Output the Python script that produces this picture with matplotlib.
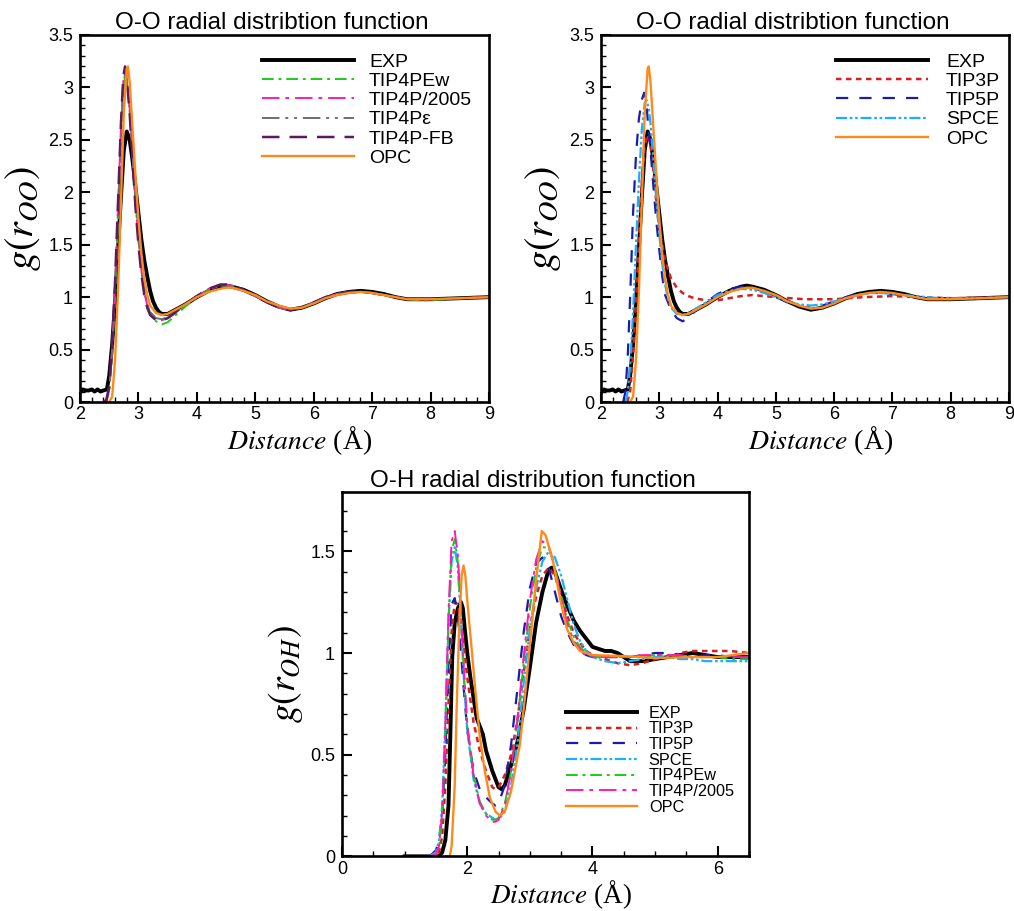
import numpy as np
import matplotlib
matplotlib.use('Agg')
import matplotlib.pyplot as plt
from matplotlib.ticker import MultipleLocator, FormatStrFormatter

plt.rcParams['font.family'] = ['Liberation Sans', 'DejaVu Sans']
plt.rcParams['mathtext.fontset'] = 'stix'

# ---------------- O-O data (top panels) ----------------
exp_oo_x = [2.0, 2.05, 2.1, 2.15, 2.2, 2.25, 2.3, 2.35, 2.4, 2.46, 2.5, 2.55, 2.6, 2.63, 2.7, 2.75, 2.8,
            2.85, 2.9, 2.95, 3.0, 3.05, 3.1, 3.15, 3.2, 3.25, 3.3, 3.35, 3.4, 3.5, 3.6, 3.8, 4.0, 4.2, 4.4,
            4.5, 4.6, 4.8, 5.0, 5.2, 5.4, 5.6, 5.8, 6.0, 6.2, 6.4, 6.6, 6.8, 7.0, 7.2, 7.4, 7.6, 7.8, 8.0, 8.5, 9.0]
exp_oo_y = [0.09, 0.12, 0.11, 0.11, 0.12, 0.10, 0.12, 0.10, 0.11, 0.12, 0.25, 0.55, 0.95, 1.26, 1.95, 2.4, 2.58,
            2.5, 2.3, 2.05, 1.8, 1.55, 1.35, 1.2, 1.06, 0.96, 0.9, 0.86, 0.84, 0.84, 0.87, 0.93, 1.0, 1.06, 1.1,
            1.11, 1.1, 1.07, 1.02, 0.96, 0.91, 0.88, 0.9, 0.94, 0.99, 1.03, 1.05, 1.06, 1.05, 1.03, 1.0, 0.98, 0.98, 0.98, 0.99, 1.0]

mod_oo_x = [2.4, 2.45, 2.5, 2.55, 2.6, 2.65, 2.7, 2.74, 2.77, 2.8, 2.85, 2.9, 2.95, 3.0, 3.05, 3.1, 3.15, 3.2,
            3.3, 3.4, 3.5, 3.6, 3.8, 4.0, 4.2, 4.4, 4.5, 4.6, 4.8, 5.0, 5.2, 5.4, 5.6, 5.8, 6.0, 6.2, 6.4, 6.6,
            6.8, 7.0, 7.2, 7.4, 7.6, 7.8, 8.0, 8.5, 9.0]
tip4pew_oo = [0.0, 0.0, 0.1, 0.45, 1.0, 1.75, 2.5, 2.95, 3.1, 3.06, 2.8, 2.4, 1.95, 1.6, 1.3, 1.08, 0.94, 0.85,
              0.77, 0.74, 0.76, 0.81, 0.91, 1.0, 1.07, 1.11, 1.11, 1.1, 1.06, 1.01, 0.95, 0.9, 0.88, 0.9, 0.94,
              0.99, 1.03, 1.05, 1.05, 1.04, 1.02, 1.0, 0.98, 0.97, 0.97, 0.99, 1.0]
tip4p2005_oo = [0.0, 0.01, 0.12, 0.5, 1.1, 1.85, 2.6, 3.05, 3.17, 3.1, 2.8, 2.35, 1.9, 1.55, 1.26, 1.05, 0.92, 0.84,
                0.78, 0.78, 0.8, 0.84, 0.93, 1.01, 1.08, 1.12, 1.12, 1.11, 1.07, 1.01, 0.95, 0.9, 0.88, 0.9, 0.95,
                1.0, 1.03, 1.05, 1.05, 1.04, 1.02, 1.0, 0.98, 0.98, 0.98, 0.99, 1.0]
tip4peps_oo = [0.0, 0.01, 0.12, 0.5, 1.08, 1.82, 2.55, 3.0, 3.13, 3.07, 2.78, 2.35, 1.9, 1.55, 1.27, 1.06, 0.93, 0.86,
               0.8, 0.79, 0.81, 0.85, 0.93, 1.01, 1.07, 1.11, 1.11, 1.1, 1.06, 1.01, 0.95, 0.9, 0.88, 0.9, 0.95,
               1.0, 1.03, 1.05, 1.05, 1.04, 1.02, 1.0, 0.98, 0.98, 0.98, 0.99, 1.0]
tip4pfb_oo = [0.0, 0.02, 0.15, 0.55, 1.15, 1.9, 2.65, 3.1, 3.2, 3.1, 2.75, 2.3, 1.85, 1.5, 1.22, 1.02, 0.9, 0.83,
              0.78, 0.78, 0.8, 0.84, 0.93, 1.01, 1.08, 1.12, 1.12, 1.11, 1.07, 1.01, 0.95, 0.9, 0.88, 0.9, 0.95,
              1.0, 1.03, 1.05, 1.05, 1.04, 1.02, 1.0, 0.98, 0.98, 0.98, 0.99, 1.0]

opc_oo_x = [2.5, 2.55, 2.6, 2.65, 2.7, 2.75, 2.8, 2.82, 2.85, 2.9, 2.95, 3.0, 3.05, 3.1, 3.15, 3.2, 3.3, 3.4,
            3.5, 3.6, 3.8, 4.0, 4.2, 4.4, 4.5, 4.6, 4.8, 5.0, 5.2, 5.4, 5.6, 5.8, 6.0, 6.2, 6.4, 6.6, 6.8, 7.0,
            7.2, 7.4, 7.6, 7.8, 8.0, 8.5, 9.0]
opc_oo = [0.0, 0.05, 0.4, 1.05, 1.9, 2.75, 3.18, 3.2, 3.05, 2.6, 2.15, 1.75, 1.42, 1.18, 1.02, 0.92, 0.85, 0.83,
          0.84, 0.87, 0.93, 1.0, 1.05, 1.08, 1.09, 1.09, 1.06, 1.02, 0.96, 0.92, 0.89, 0.9, 0.94, 0.99, 1.02,
          1.04, 1.05, 1.04, 1.02, 1.0, 0.98, 0.98, 0.98, 0.99, 1.0]

tip3p_oo_x = [2.45, 2.5, 2.55, 2.6, 2.65, 2.7, 2.75, 2.8, 2.85, 2.9, 2.95, 3.0, 3.1, 3.2, 3.3, 3.4, 3.5, 3.6,
              3.8, 4.0, 4.2, 4.4, 4.6, 4.8, 5.0, 5.5, 6.0, 6.5, 7.0, 7.5, 8.0, 9.0]
tip3p_oo = [0.0, 0.1, 0.45, 0.95, 1.55, 2.1, 2.45, 2.55, 2.45, 2.2, 1.9, 1.65, 1.35, 1.18, 1.09, 1.04, 1.01, 0.99,
            0.97, 0.97, 0.99, 1.01, 1.02, 1.01, 1.0, 0.98, 0.98, 1.0, 1.01, 1.0, 0.99, 1.0]

tip5p_oo_x = [2.38, 2.42, 2.46, 2.5, 2.55, 2.6, 2.65, 2.7, 2.74, 2.78, 2.8, 2.85, 2.9, 2.95, 3.0, 3.05, 3.1, 3.2,
              3.3, 3.4, 3.5, 3.6, 3.8, 4.0, 4.2, 4.4, 4.6, 4.8, 5.0, 5.2, 5.4, 5.6, 5.8, 6.0, 6.2, 6.4, 6.6, 6.8,
              7.0, 7.4, 7.8, 8.5, 9.0]
tip5p_oo = [0.0, 0.1, 0.45, 1.0, 1.8, 2.35, 2.7, 2.88, 2.95, 2.85, 2.7, 2.4, 2.05, 1.72, 1.45, 1.2, 1.02, 0.88,
            0.8, 0.77, 0.8, 0.86, 0.95, 1.03, 1.08, 1.1, 1.09, 1.05, 1.0, 0.95, 0.91, 0.9, 0.92, 0.96, 1.0, 1.03,
            1.04, 1.04, 1.03, 1.0, 0.99, 0.99, 1.0]

spce_oo_x = [2.42, 2.46, 2.5, 2.55, 2.6, 2.65, 2.7, 2.75, 2.78, 2.82, 2.85, 2.9, 2.95, 3.0, 3.05, 3.1, 3.15, 3.2,
             3.3, 3.4, 3.5, 3.6, 3.8, 4.0, 4.2, 4.4, 4.6, 4.8, 5.0, 5.2, 5.4, 5.6, 5.8, 6.0, 6.2, 6.4, 6.6, 6.8,
             7.0, 7.4, 7.8, 8.5, 9.0]
spce_oo = [0.0, 0.1, 0.35, 0.85, 1.5, 2.1, 2.6, 2.85, 2.88, 2.8, 2.65, 2.3, 1.92, 1.6, 1.32, 1.12, 0.98, 0.9,
           0.84, 0.83, 0.85, 0.88, 0.95, 1.02, 1.06, 1.08, 1.07, 1.04, 1.0, 0.96, 0.93, 0.92, 0.93, 0.96, 0.99,
           1.02, 1.04, 1.04, 1.03, 1.01, 0.99, 0.99, 1.0]

# ---------------- O-H data (bottom panel) ----------------
exp_oh_x = [1.0, 1.55, 1.6, 1.65, 1.7, 1.73, 1.76, 1.8, 1.85, 1.9, 1.93, 1.96, 2.0, 2.05, 2.1, 2.15, 2.2, 2.25,
            2.3, 2.4, 2.5, 2.55, 2.6, 2.7, 2.8, 2.9, 3.0, 3.1, 3.2, 3.3, 3.35, 3.4, 3.5, 3.6, 3.7, 3.8, 3.9, 4.0,
            4.1, 4.2, 4.3, 4.4, 4.5, 4.6, 4.8, 5.0, 5.2, 5.4, 5.6, 5.8, 6.0, 6.2, 6.5]
exp_oh = [0.0, 0.0, 0.02, 0.08, 0.25, 0.6, 0.98, 1.15, 1.22, 1.25, 1.22, 1.12, 1.0, 0.88, 0.78, 0.68, 0.64, 0.6,
          0.52, 0.42, 0.34, 0.33, 0.35, 0.45, 0.56, 0.72, 0.93, 1.15, 1.3, 1.41, 1.42, 1.4, 1.31, 1.23, 1.16, 1.11,
          1.07, 1.03, 1.02, 1.01, 1.01, 1.0, 0.98, 0.96, 0.96, 0.97, 0.98, 0.99, 1.0, 0.99, 0.98, 0.98, 0.98]

mod_oh_x = [1.4, 1.5, 1.55, 1.6, 1.65, 1.7, 1.75, 1.8, 1.85, 1.9, 1.95, 2.0, 2.1, 2.2, 2.3, 2.4, 2.45, 2.5, 2.6,
            2.7, 2.8, 2.9, 3.0, 3.1, 3.2, 3.3, 3.4, 3.5, 3.6, 3.7, 3.8, 3.9, 4.0, 4.2, 4.4, 4.6, 4.8, 5.0, 5.2,
            5.4, 5.6, 5.8, 6.0, 6.2, 6.5]
tip3p_oh = [0.0, 0.0, 0.02, 0.1, 0.35, 0.75, 1.1, 1.25, 1.24, 1.15, 1.02, 0.88, 0.66, 0.52, 0.42, 0.34, 0.33, 0.34,
            0.4, 0.5, 0.67, 0.9, 1.12, 1.28, 1.38, 1.42, 1.38, 1.28, 1.18, 1.1, 1.05, 1.01, 0.99, 0.97, 0.95, 0.94,
            0.95, 0.97, 0.98, 1.0, 1.01, 1.01, 1.01, 1.01, 1.0]
tip5p_oh = [0.0, 0.03, 0.08, 0.2, 0.5, 0.95, 1.24, 1.27, 1.18, 1.0, 0.8, 0.62, 0.42, 0.33, 0.29, 0.26, 0.25, 0.26,
            0.35, 0.55, 0.82, 1.1, 1.32, 1.44, 1.47, 1.42, 1.3, 1.18, 1.1, 1.04, 1.01, 0.99, 0.98, 0.98, 0.98, 0.98,
            0.99, 1.0, 1.0, 0.99, 0.98, 0.99, 0.99, 0.98, 0.98]
spce_oh = [0.0, 0.02, 0.08, 0.25, 0.65, 1.15, 1.45, 1.52, 1.42, 1.15, 0.85, 0.62, 0.38, 0.26, 0.21, 0.19, 0.18, 0.18,
           0.22, 0.35, 0.55, 0.85, 1.12, 1.32, 1.45, 1.5, 1.47, 1.38, 1.26, 1.14, 1.06, 1.01, 0.98, 0.96, 0.95, 0.96,
           0.97, 0.98, 0.98, 0.97, 0.97, 0.96, 0.96, 0.96, 0.96]
tip4pew_oh = [0.0, 0.01, 0.05, 0.2, 0.6, 1.15, 1.5, 1.56, 1.45, 1.18, 0.88, 0.64, 0.4, 0.27, 0.21, 0.18, 0.18, 0.19,
              0.26, 0.42, 0.66, 0.95, 1.22, 1.42, 1.52, 1.52, 1.42, 1.28, 1.16, 1.08, 1.03, 1.0, 0.98, 0.98, 0.98,
              0.98, 0.98, 0.99, 0.99, 0.99, 0.98, 0.98, 0.98, 0.97, 0.97]
tip4p2005_oh = [0.0, 0.01, 0.05, 0.22, 0.65, 1.2, 1.55, 1.6, 1.48, 1.2, 0.9, 0.65, 0.4, 0.26, 0.2, 0.17, 0.17, 0.18,
                0.25, 0.42, 0.67, 0.98, 1.26, 1.46, 1.55, 1.53, 1.42, 1.27, 1.14, 1.06, 1.02, 0.99, 0.98, 0.98,
                0.98, 0.98, 0.99, 0.99, 0.99, 0.99, 0.98, 0.98, 0.98, 0.98, 0.98]

opc_oh_x = [1.65, 1.72, 1.75, 1.8, 1.83, 1.87, 1.91, 1.94, 1.97, 2.0, 2.07, 2.14, 2.2, 2.28, 2.36, 2.45, 2.52, 2.6,
            2.7, 2.84, 2.92, 3.0, 3.1, 3.19, 3.25, 3.37, 3.48, 3.59, 3.7, 3.8, 3.9, 4.0, 4.5, 5.0, 5.5, 6.0, 6.5]
opc_oh = [0.0, 0.0, 0.05, 0.35, 0.72, 1.12, 1.38, 1.43, 1.38, 1.26, 1.02, 0.78, 0.59, 0.42, 0.29, 0.22, 0.2, 0.22,
          0.32, 0.55, 0.78, 1.04, 1.36, 1.6, 1.58, 1.45, 1.27, 1.12, 1.05, 1.01, 1.0, 0.99, 0.985, 0.975, 0.98,
          0.98, 1.0]

# line styles
c_green, c_mag, c_gray, c_purple = '#19cc19', '#ff1ab3', '#6e6e6e', '#5c1a60'
c_orange, c_red, c_blue, c_cyan = '#ff8a1c', '#d42020', '#1c1ca8', '#1aaeff'
ls_ew = (0, (6, 2.5, 1.5, 2.5))
ls_2005 = (0, (9, 3, 2, 3))
ls_eps = (0, (9, 3, 1.5, 3, 1.5, 3))
ls_fb = (0, (7, 4))
ls_3p = (0, (2.2, 1.8))
ls_5p = (0, (5.5, 5))
ls_spce = (0, (5, 1.2, 1.2, 1.2, 1.2, 1.2))
lw_exp = 2.8
lw = 1.4

# italic math word + upright serif unit
xlab = r'$Distance$ (Å)'
serif = ['Liberation Serif', 'DejaVu Serif']

fig = plt.figure(figsize=(10.14, 9.11), dpi=100)
ax1 = fig.add_axes([0.0789, 0.5587, 0.4034, 0.4029])
ax2 = fig.add_axes([0.5927, 0.5587, 0.4024, 0.4029])
ax3 = fig.add_axes([0.3373, 0.0600, 0.4014, 0.3995])


def style_axes(ax, xmaj, xmin, ymaj, ymin):
    for s in ax.spines.values():
        s.set_linewidth(1.9)
    ax.xaxis.set_major_locator(MultipleLocator(xmaj))
    ax.xaxis.set_minor_locator(MultipleLocator(xmin))
    ax.yaxis.set_major_locator(MultipleLocator(ymaj))
    ax.yaxis.set_minor_locator(MultipleLocator(ymin))
    ax.xaxis.set_major_formatter(FormatStrFormatter('%g'))
    ax.yaxis.set_major_formatter(FormatStrFormatter('%g'))
    ax.tick_params(which='major', direction='in', length=7, width=1.5, labelsize=13)
    ax.tick_params(axis='y', which='major', pad=5)
    ax.tick_params(axis='x', which='major', pad=3)
    ax.tick_params(which='minor', direction='in', length=3.5, width=1.0)


# top-left
ax1.plot(exp_oo_x, exp_oo_y, color='black', lw=lw_exp, label='EXP')
ax1.plot(mod_oo_x, tip4pew_oo, color=c_green, lw=lw, ls=ls_ew, label='TIP4PEw')
ax1.plot(mod_oo_x, tip4p2005_oo, color=c_mag, lw=lw, ls=ls_2005, label='TIP4P/2005')
ax1.plot(mod_oo_x, tip4peps_oo, color=c_gray, lw=lw, ls=ls_eps, label='TIP4Pε')
ax1.plot(mod_oo_x, tip4pfb_oo, color=c_purple, lw=lw + 0.4, ls=ls_fb, label='TIP4P-FB')
ax1.plot(opc_oo_x, opc_oo, color=c_orange, lw=lw + 0.3, label='OPC')

# top-right
ax2.plot(exp_oo_x, exp_oo_y, color='black', lw=lw_exp, label='EXP')
ax2.plot(tip3p_oo_x, tip3p_oo, color=c_red, lw=lw + 0.4, ls=ls_3p, label='TIP3P')
ax2.plot(tip5p_oo_x, tip5p_oo, color=c_blue, lw=lw + 0.2, ls=ls_5p, label='TIP5P')
ax2.plot(spce_oo_x, spce_oo, color=c_cyan, lw=lw + 0.2, ls=ls_spce, label='SPCE')
ax2.plot(opc_oo_x, opc_oo, color=c_orange, lw=lw + 0.3, label='OPC')

for ax in (ax1, ax2):
    ax.set_xlim(2, 9)
    ax.set_ylim(0, 3.5)
    style_axes(ax, 1, 0.2, 0.5, 0.1)
    ax.set_title('O-O radial distribtion function', fontsize=17.5, x=0.47, pad=4)
    ax.set_xlabel(xlab, x=0.537, labelpad=1, fontsize=20, family=serif)
    ax.set_ylabel(r'$g(r_{OO})$', fontsize=29, labelpad=4)

ax1.legend(loc='upper left', bbox_to_anchor=(0.445, 0.95), frameon=False, fontsize=14,
           handlelength=4.75, handletextpad=0.75, labelspacing=0.08, borderpad=0, borderaxespad=0)
ax2.legend(loc='upper left', bbox_to_anchor=(0.576, 0.95), frameon=False, fontsize=14,
           handlelength=4.75, handletextpad=0.9, labelspacing=0.08, borderpad=0, borderaxespad=0)

# bottom
ax3.plot(exp_oh_x, exp_oh, color='black', lw=lw_exp, label='EXP')
ax3.plot(mod_oh_x, tip3p_oh, color=c_red, lw=lw + 0.4, ls=ls_3p, label='TIP3P')
ax3.plot(mod_oh_x, tip5p_oh, color=c_blue, lw=lw + 0.2, ls=ls_5p, label='TIP5P')
ax3.plot(mod_oh_x, spce_oh, color=c_cyan, lw=lw + 0.2, ls=ls_spce, label='SPCE')
ax3.plot(mod_oh_x, tip4pew_oh, color=c_green, lw=lw, ls=ls_ew, label='TIP4PEw')
ax3.plot(mod_oh_x, tip4p2005_oh, color=c_mag, lw=lw, ls=ls_2005, label='TIP4P/2005')
ax3.plot(opc_oh_x, opc_oh, color=c_orange, lw=lw + 0.3, label='OPC')
ax3.set_xlim(0, 6.5)
ax3.set_ylim(0, 1.79)
style_axes(ax3, 2, 0.5, 0.5, 0.1)
ax3.set_title('O-H radial distribution function', fontsize=17.5, x=0.47, pad=4)
ax3.set_xlabel(xlab, x=0.537, labelpad=0.5, fontsize=19.5, family=serif)
ax3.set_ylabel(r'$g(r_{OH})$', fontsize=27, labelpad=4)
ax3.legend(loc='upper left', bbox_to_anchor=(0.55, 0.414), frameon=False, fontsize=11.7,
           handlelength=4.35, handletextpad=0.75, labelspacing=0.04, borderpad=0, borderaxespad=0)

fig.savefig('out.png', dpi=100)
